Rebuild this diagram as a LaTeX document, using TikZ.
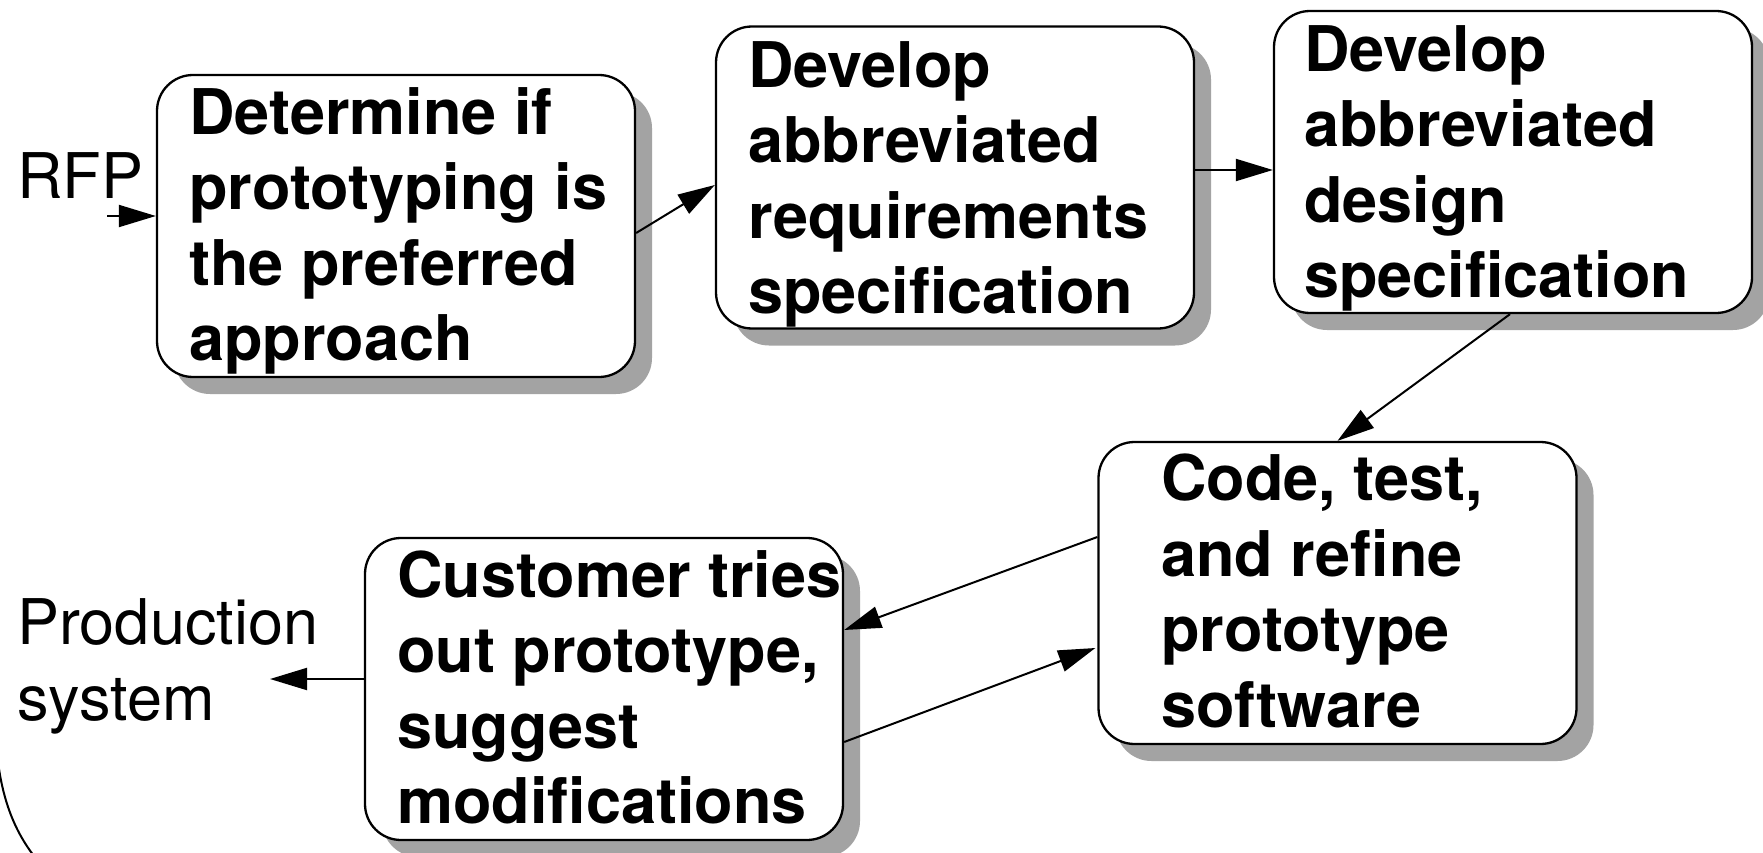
\documentclass[tikz,border=0pt]{standalone}
\usepackage{fontspec}
\setmainfont{TeX Gyre Heros}
\usetikzlibrary{shadows,arrows.meta,calc}
\definecolor{shadowgray}{RGB}{163,163,163}
\tikzset{
  box/.style={draw=black, line width=2.3pt, fill=white, rounded corners=36pt,
    minimum width=478pt, minimum height=302pt, inner sep=0pt,
    drop shadow={shadow xshift=17pt, shadow yshift=-17pt, fill=shadowgray, opacity=1}},
  boxtext/.style={anchor=north west, inner sep=0pt, align=left,
    font=\fontsize{63}{75.5}\selectfont\bfseries},
  label/.style={anchor=base west, inner sep=0pt, align=left,
    font=\fontsize{63}{75.5}\selectfont},
  conn/.style={line width=2pt, -{Triangle[length=37pt,width=22pt]}},
}
\begin{document}
\begin{tikzpicture}[x=1pt,y=-1pt]
\useasboundingbox (0,0) rectangle (1763,853);
% boxes
\node[box] (b1) at (396,226) {};
\node[box] (b2) at (955,177.5) {};
\node[box] (b3) at (1513,162) {};
\node[box] (b4) at (1337.5,593) {};
\node[box] (b5) at (604,689) {};
% texts
\node[boxtext] (t1) at (189,87) {Determine if\\prototyping is\\the preferred\\approach};
\node[boxtext] (t2) at (748,41) {Develop\\abbreviated\\requirements\\specification};
\node[boxtext] (t3) at (1304,25) {Develop\\abbreviated\\design\\specification};
\node[boxtext] (t4) at (1161,454) {Code, test,\\and refine\\prototype\\software};
\node[boxtext] (t5) at (397,550) {Customer tries\\out prototype,\\suggest\\modifications};
% labels
\node[label] (rfp) at (17,199) {RFP};
\node[label] (prod) at (17,720) {Production\\system};
% free ends
\coordinate (rfpin) at (107,216);
\coordinate (prodout) at (270,679);
\coordinate (d2) at ([yshift=7.5pt]b2.east);
% connectors
\draw[conn] (rfpin) -- (rfpin -| b1.west);
\draw[conn] ([yshift=-7pt]b1.east) -- ([yshift=-7.5pt]b2.west);
\draw[conn] (d2) -- (d2 -| b3.west);
\draw[conn] ([xshift=-3pt]b3.south) -- (b4.north);
\draw[conn] ([yshift=56pt]b4.west) -- ([yshift=59pt]b5.east);
\draw[conn] ([yshift=-53pt]b5.east) -- ([yshift=-55pt,xshift=-2pt]b4.west);
\draw[conn] ([yshift=10pt]b5.west) -- (prodout);
% arc at bottom left
\draw[line width=2pt] (-2,762) .. controls (3,800) and (14,830) .. (34,856);
\end{tikzpicture}
\end{document}
